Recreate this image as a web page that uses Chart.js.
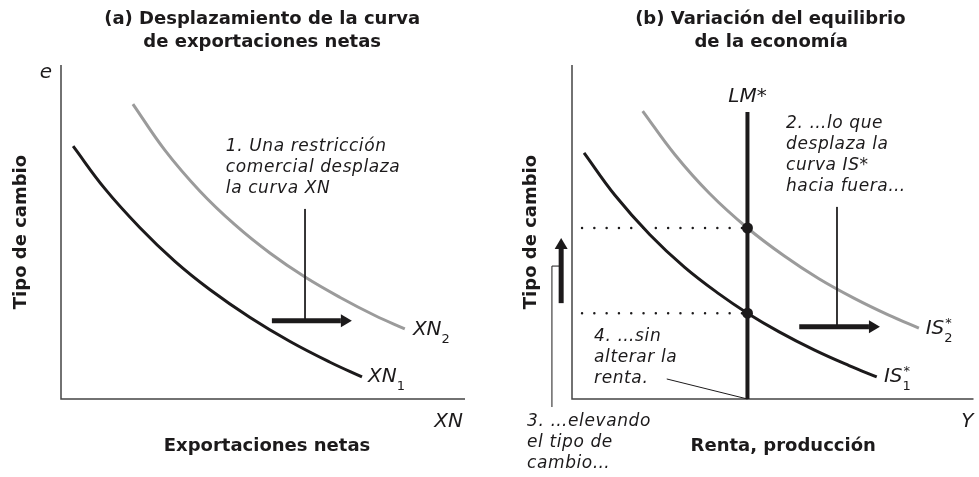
<!DOCTYPE html>
<html>
<head>
<meta charset="utf-8">
<script src="https://cdn.jsdelivr.net/npm/chart.js@4.4.1/dist/chart.umd.min.js"></script>
<style>
  html, body { margin: 0; padding: 0; background: #fff; }
  #wrap { position: relative; width: 979px; height: 477px; }
  .panel { position: absolute; top: 0; }
  #pa { left: 0; }
  #pb { left: 490px; }
</style>
</head>
<body>
<div id="wrap">
  <div class="panel" id="pa"><canvas id="chartA" width="490" height="477"></canvas></div>
  <div class="panel" id="pb"><canvas id="chartB" width="489" height="477"></canvas></div>
</div>
<script>
// Panel (a): curvas de exportaciones netas
const xn1X = [3.0, 10.9, 19.6, 28.2, 36.9, 46.8, 56.7, 66.6, 74.5];
const xn1Y = [75.7, 62.9, 51.2, 41.2, 32.7, 24.4, 17.2, 11.0, 6.6];
const xn2X = [17.8, 25.7, 34.4, 43.1, 51.7, 60.4, 69.1, 77.7, 85.1];
const xn2Y = [88.3, 74.5, 62.2, 52.1, 43.7, 36.5, 30.4, 25.0, 21.0];

// Panel (b): IS* y LM*
const is1X = [3.0, 10.7, 19.4, 28.0, 36.7, 43.7, 51.6, 60.3, 69.0, 75.9];
const is1Y = [73.7, 61.0, 49.2, 39.5, 31.4, 25.7, 20.1, 14.7, 10.0, 6.6];
const is2X = [17.6, 25.6, 34.2, 43.7, 52.9, 61.5, 70.2, 78.9, 86.4];
const is2Y = [86.2, 73.2, 61.6, 51.2, 42.8, 36.0, 30.2, 25.1, 21.2];
const lmX = 43.7;
const lmTop = 85.9;
const equilibrioY = [51.2, 25.7];   // e2 y e1 sobre LM*

const NEGRO = '#1c1a1b';
const GRIS = '#9b9b9b';
const FUENTE = '"DejaVu Sans", sans-serif';

function puntos(xs, ys) { return xs.map((x, i) => ({ x: x, y: ys[i] })); }

function curva(xs, ys, color) {
  return {
    data: puntos(xs, ys), showLine: true, borderColor: color, borderWidth: 3,
    pointRadius: 0, tension: 0.4, clip: false, fill: false
  };
}

function tramo(pts, w, color, dash) {
  return {
    data: pts.map(p => ({ x: p[0], y: p[1] })), showLine: true, borderColor: color,
    borderWidth: w, pointRadius: 0, clip: false, borderDash: dash || [],
    borderCapStyle: dash ? 'round' : 'butt', tension: 0
  };
}

function ejes() {
  return tramo([[0, 100], [0, 0], [100, 0]], 1.5, '#444');
}

// plugin que dibuja textos, flechas y etiquetas del esquema
const esquema = {
  id: 'esquema',
  afterDatasetsDraw(chart, args, opts) {
    const ctx = chart.ctx;
    const sx = chart.scales.x, sy = chart.scales.y;
    const px = v => sx.getPixelForValue(v);
    const py = v => sy.getPixelForValue(v);
    ctx.save();
    ctx.fillStyle = NEGRO;
    ctx.strokeStyle = NEGRO;

    (opts.lineas || []).forEach(l => {
      ctx.lineWidth = 1;
      ctx.beginPath();
      l.forEach((p, i) => i ? ctx.lineTo(px(p[0]), py(p[1])) : ctx.moveTo(px(p[0]), py(p[1])));
      ctx.stroke();
    });

    (opts.flechas || []).forEach(f => {
      const x1 = px(f.x1), y1 = py(f.y1), x2 = px(f.x2), y2 = py(f.y2);
      const c = Math.cos(Math.atan2(y2 - y1, x2 - x1)), s = Math.sin(Math.atan2(y2 - y1, x2 - x1));
      const hl = 11, hw = 6.5;
      ctx.lineWidth = 5;
      ctx.beginPath();
      ctx.moveTo(x1, y1);
      ctx.lineTo(x2 - hl * c, y2 - hl * s);
      ctx.stroke();
      ctx.beginPath();
      ctx.moveTo(x2, y2);
      ctx.lineTo(x2 - hl * c - hw * s, y2 - hl * s + hw * c);
      ctx.lineTo(x2 - hl * c + hw * s, y2 - hl * s - hw * c);
      ctx.closePath();
      ctx.fill();
    });

    ctx.textBaseline = 'middle';
    (opts.textos || []).forEach(t => {
      ctx.font = t.font;
      ctx.letterSpacing = t.ls || '0px';
      ctx.textAlign = t.align || 'left';
      const lh = t.lh || 21;
      if (t.rot) {
        ctx.save();
        ctx.translate(px(t.x), py(t.y));
        ctx.rotate(-Math.PI / 2);
        ctx.fillText(t.lines[0], 0, 0);
        ctx.restore();
        return;
      }
      t.lines.forEach((l, i) => ctx.fillText(l, px(t.x), py(t.y) + i * lh));
    });
    ctx.letterSpacing = '0px';

    (opts.etiquetas || []).forEach(e => {
      ctx.textAlign = 'left';
      ctx.font = 'italic 20px ' + FUENTE;
      const x = px(e.x), y = py(e.y);
      ctx.fillText(e.t, x, y);
      const w = ctx.measureText(e.t).width;
      ctx.font = '13px ' + FUENTE;
      if (e.sup) ctx.fillText(e.sup, x + w + 1, y - 5);
      if (e.sub) ctx.fillText(e.sub, x + w, y + 10);
    });
    ctx.restore();
  }
};
Chart.register(esquema);

const baseOpts = (pad, notas) => ({
  responsive: false,
  animation: false,
  events: [],
  layout: { padding: pad },
  scales: {
    x: { type: 'linear', min: 0, max: 100, display: false },
    y: { type: 'linear', min: 0, max: 100, display: false }
  },
  plugins: { legend: { display: false }, tooltip: { enabled: false }, esquema: notas }
});

const tituloF = 'bold 18px ' + FUENTE;
const ejeF = 'bold 18px ' + FUENTE;
const notaF = 'italic 17px ' + FUENTE;
const letraF = 'italic 20px ' + FUENTE;
const ESP = '0.6px';

// Chart.js pinta el primer dataset encima: se listan de abajo a arriba y se invierten
new Chart(document.getElementById('chartA'), {
  type: 'scatter',
  data: {
    datasets: [
      ejes(),
      curva(xn2X, xn2Y, GRIS),
      curva(xn1X, xn1Y, NEGRO),
      tramo([[60.4, 56.9], [60.4, 23.4]], 1, NEGRO)
    ].reverse()
  },
  options: baseOpts({ left: 61, right: 25, top: 65, bottom: 78 }, {
    flechas: [{ x1: 52.2, y1: 23.4, x2: 72.0, y2: 23.4 }],
    textos: [
      { x: 49.8, y: 113.8, lines: ['(a) Desplazamiento de la curva', 'de exportaciones netas'], font: tituloF, align: 'center', lh: 23 },
      { x: -2.2, y: 97.6, lines: ['e'], font: letraF, align: 'right' },
      { x: 99.5, y: -6.9, lines: ['XN'], font: letraF, align: 'right' },
      { x: 51.0, y: -14.1, lines: ['Exportaciones netas'], font: ejeF, align: 'center' },
      { x: -9.9, y: 50.0, lines: ['Tipo de cambio'], font: ejeF, align: 'center', rot: true },
      { x: 40.8, y: 75.7, lines: ['1. Una restricción', 'comercial desplaza', 'la curva XN'], font: notaF, ls: ESP }
    ],
    etiquetas: [
      { x: 87.1, y: 20.7, t: 'XN', sub: '2' },
      { x: 76.0, y: 6.6, t: 'XN', sub: '1' }
    ]
  })
});

new Chart(document.getElementById('chartB'), {
  type: 'scatter',
  data: {
    datasets: [
      ejes(),
      tramo([[2.5, equilibrioY[0]], [lmX, equilibrioY[0]]], 2.5, NEGRO, [0, 12.3]),
      tramo([[2.5, equilibrioY[1]], [lmX, equilibrioY[1]]], 2.5, NEGRO, [0, 12.3]),
      curva(is2X, is2Y, GRIS),
      curva(is1X, is1Y, NEGRO),
      tramo([[lmX, 0], [lmX, lmTop]], 4, NEGRO),
      {
        data: equilibrioY.map(v => ({ x: lmX, y: v })), pointRadius: 5.5,
        pointBackgroundColor: NEGRO, pointBorderWidth: 0, clip: false
      },
      tramo([[66.0, 57.5], [66.0, 21.6]], 1, NEGRO),
      tramo([[23.6, 6.0], [43.7, 0]], 1, NEGRO)
    ].reverse()
  },
  options: baseOpts({ left: 82, right: 4, top: 65, bottom: 78 }, {
    lineas: [[[-5.0, -2.4], [-5.0, 39.8], [-3.2, 39.8]]],
    flechas: [
      { x1: 56.6, y1: 21.6, x2: 76.7, y2: 21.6 },
      { x1: -2.7, y1: 28.7, x2: -2.7, y2: 48.2 }
    ],
    textos: [
      { x: 49.4, y: 113.8, lines: ['(b) Variación del equilibrio'], font: tituloF, align: 'center' },
      { x: 49.6, y: 106.9, lines: ['de la economía'], font: tituloF, align: 'center' },
      { x: 100, y: -6.9, lines: ['Y'], font: letraF, align: 'right' },
      { x: 52.6, y: -14.1, lines: ['Renta, producción'], font: ejeF, align: 'center' },
      { x: -10.2, y: 50.0, lines: ['Tipo de cambio'], font: ejeF, align: 'center', rot: true },
      { x: 43.7, y: 90.4, lines: ['LM*'], font: letraF, align: 'center' },
      { x: 53.3, y: 82.6, lines: ['2. …lo que', 'desplaza la', 'curva IS*', 'hacia fuera…'], font: notaF, ls: ESP },
      { x: 5.5, y: 18.6, lines: ['4. …sin', 'alterar la', 'renta.'], font: notaF, ls: ESP },
      { x: -11.2, y: -6.9, lines: ['3. …elevando', 'el tipo de', 'cambio…'], font: notaF, ls: ESP }
    ],
    etiquetas: [
      { x: 88.1, y: 21.0, t: 'IS', sup: '*', sub: '2' },
      { x: 77.7, y: 6.6, t: 'IS', sup: '*', sub: '1' }
    ]
  })
});
</script>
</body>
</html>
